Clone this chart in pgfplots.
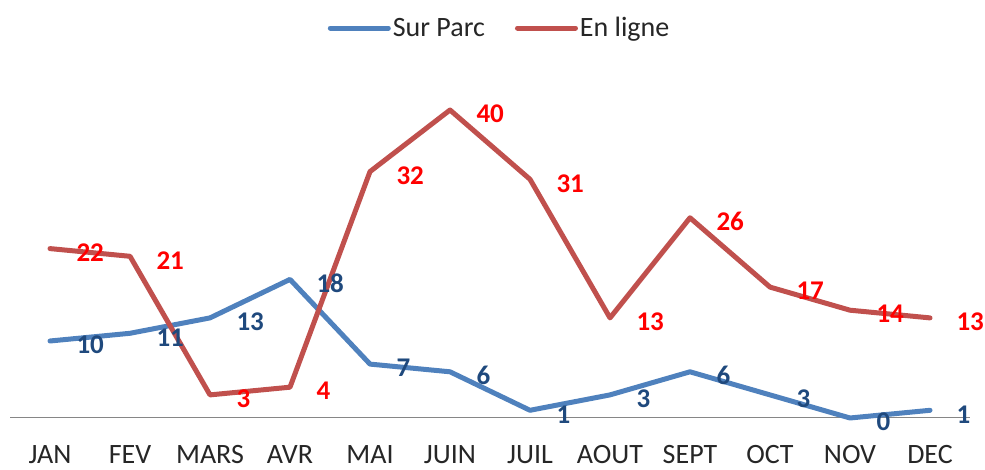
\documentclass[border=0pt]{standalone}
\usepackage{fontspec}
\setmainfont{Carlito}
\usepackage{pgfplots}
\pgfplotsset{compat=1.18}
\definecolor{lineblue}{HTML}{4F81BD}
\definecolor{linered}{HTML}{C0504D}
\definecolor{lblblue}{HTML}{1F497D}
\definecolor{lblred}{HTML}{FF0000}
\definecolor{axisgray}{HTML}{868686}
\definecolor{txt}{HTML}{262626}

\begin{document}
\begin{tikzpicture}
\useasboundingbox (-10pt,-52pt) rectangle (975pt,418pt);
\begin{axis}[
    at={(0pt,0pt)}, anchor=south west,
    scale only axis,
    width=960pt, height=346.5pt,
    xmin=-0.5, xmax=11.5, ymin=0, ymax=45,
    axis x line*=bottom, axis y line=none,
    x axis line style={draw=axisgray, line width=1pt, -},
    xtick={0,...,11},
    xticklabels={JAN,FEV,MARS,AVR,MAI,JUIN,JUIL,AOUT,SEPT,OCT,NOV,DEC},
    major tick length=0pt,
    xticklabel style={font=\fontsize{28}{32}\selectfont, text=txt, inner sep=0pt, anchor=north, yshift=-27pt},
    ytick=\empty,
    clip=false,
    /pgf/number format/assume math mode=true,
    legend columns=2,
    legend style={draw=none, fill=none, at={(0.51,1.1255)}, anchor=center,
        font=\fontsize{28}{32}\selectfont, text=txt,
        /tikz/every even column/.append style={column sep=28pt}},
    legend image code/.code={\draw[#1] (0pt,0pt) -- (58pt,0pt);},
]
\addplot[color=lineblue, line width=5pt, line join=round, line cap=round,
    nodes near coords,
    every node near coord/.append style={anchor=west, xshift=24pt, yshift=-4pt, inner sep=0pt,
        text=lblblue, font=\bfseries\fontsize{27}{30}\selectfont}]
    coordinates {(0,10) (1,11) (2,13) (3,18) (4,7) (5,6) (6,1) (7,3) (8,6) (9,3) (10,0) (11,1)};
\addlegendentry{Sur Parc}
\addplot[color=linered, line width=5pt, line join=round, line cap=round,
    nodes near coords,
    every node near coord/.append style={anchor=west, xshift=24pt, yshift=-4pt, inner sep=0pt,
        text=lblred, font=\bfseries\fontsize{27}{30}\selectfont}]
    coordinates {(0,22) (1,21) (2,3) (3,4) (4,32) (5,40) (6,31) (7,13) (8,26) (9,17) (10,14) (11,13)};
\addlegendentry{En ligne}
\end{axis}
\end{tikzpicture}
\end{document}
